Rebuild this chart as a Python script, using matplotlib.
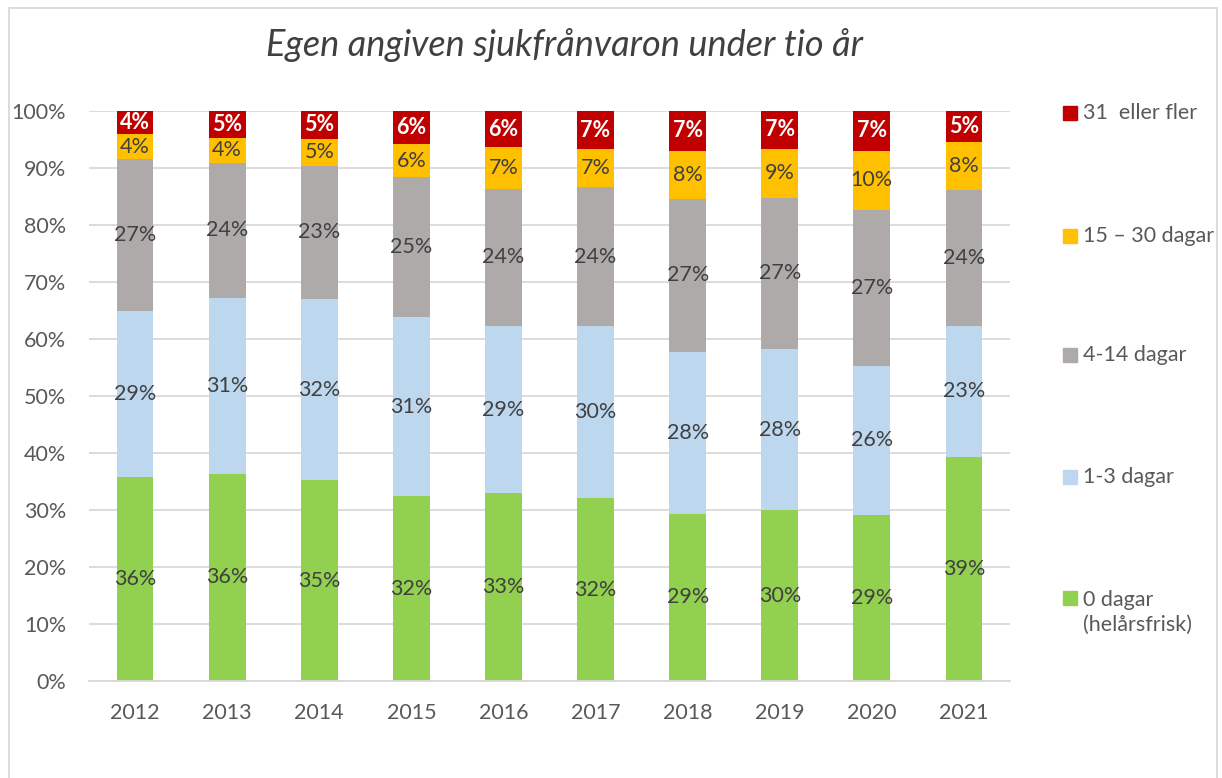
import matplotlib.pyplot as plt
from matplotlib.patches import Rectangle
import numpy as np

plt.rcParams['font.family'] = ['Lato', 'DejaVu Sans']

years = ['2012', '2013', '2014', '2015', '2016', '2017', '2018', '2019', '2020', '2021']
# andel (%) per år och kategori
dagar_0 = [35.8, 36.4, 35.2, 32.4, 33.0, 32.1, 29.3, 30.0, 29.2, 39.3]
dagar_1_3 = [29.1, 30.8, 31.8, 31.4, 29.2, 30.1, 28.4, 28.2, 26.1, 23.0]
dagar_4_14 = [26.6, 23.7, 23.4, 24.6, 24.2, 24.4, 26.9, 26.6, 27.4, 23.9]
dagar_15_30 = [4.4, 4.4, 4.7, 5.8, 7.2, 6.7, 8.4, 8.6, 10.3, 8.4]
dagar_31 = [4.1, 4.7, 4.9, 5.8, 6.4, 6.7, 7.0, 6.6, 7.0, 5.4]

series = [
    ('0 dagar\n(helårsfrisk)', dagar_0, '#92D050'),
    ('1-3 dagar', dagar_1_3, '#BDD7EE'),
    ('4-14 dagar', dagar_4_14, '#AEAAAA'),
    ('15 – 30 dagar', dagar_15_30, '#FFC000'),
    ('31  eller fler', dagar_31, '#C00000'),
]

W, H = 1222, 778
fs = 15.5
fig = plt.figure(figsize=(W / 100, H / 100), dpi=100)
ax = fig.add_axes([89 / W, 1 - 681 / H, (1010 - 89) / W, (681 - 111) / H])

x = np.arange(len(years))
bottom = np.zeros(len(years))
for name, vals, col in series:
    vals = np.array(vals)
    bars = ax.bar(x, vals, 0.4, bottom=bottom, color=col, zorder=2)
    labels = [f"{round(v)}%" for v in vals]
    if col == '#C00000':
        ax.bar_label(bars, labels=labels, label_type='center', color='white',
                     fontsize=fs, fontweight='bold')
    else:
        ax.bar_label(bars, labels=labels, label_type='center', color='#404040',
                     fontsize=fs)
    bottom += vals

ax.set_xlim(-0.5, len(years) - 0.5)
ax.set_ylim(0, 100)
ax.set_yticks(range(0, 101, 10))
ax.set_yticklabels([f"{t}%" for t in range(0, 101, 10)])
ax.set_xticks(x)
ax.set_xticklabels(years)
ax.tick_params(axis='both', length=0, labelsize=fs, colors='#595959')
ax.tick_params(axis='y', pad=16.5)
ax.tick_params(axis='x', pad=16)
ax.grid(axis='y', color='#D9D9D9', linewidth=1.3, zorder=0)
for s in ['top', 'right', 'left']:
    ax.spines[s].set_visible(False)
ax.spines['bottom'].set_color('#D9D9D9')
ax.spines['bottom'].set_linewidth(1.3)

fig.text(565 / W, 1 - 45 / H, 'Egen angiven sjukfrånvaron under tio år',
         ha='center', va='center', fontsize=26, style='italic', color='#404040')

# legend, top to bottom
leg_y = [113, 236, 355, 477, 598]
for (name, vals, col), yy in zip(series[::-1], leg_y):
    fig.patches.append(Rectangle((1063 / W, 1 - (yy + 7) / H), 14 / W, 14 / H,
                                 transform=fig.transFigure, color=col))
    ty = yy + 14.5 if '\n' in name else yy
    fig.text(1083 / W, 1 - ty / H, name, ha='left', va='center',
             fontsize=fs, color='#595959', linespacing=1.3,
             transform=fig.transFigure)

fig.patches.append(Rectangle((9 / W, -0.02), (1217 - 9) / W, 1 - 8 / H + 0.02,
                             transform=fig.transFigure, fill=False,
                             edgecolor='#D9D9D9', linewidth=1.3))

fig.savefig('out.png', dpi=100)
